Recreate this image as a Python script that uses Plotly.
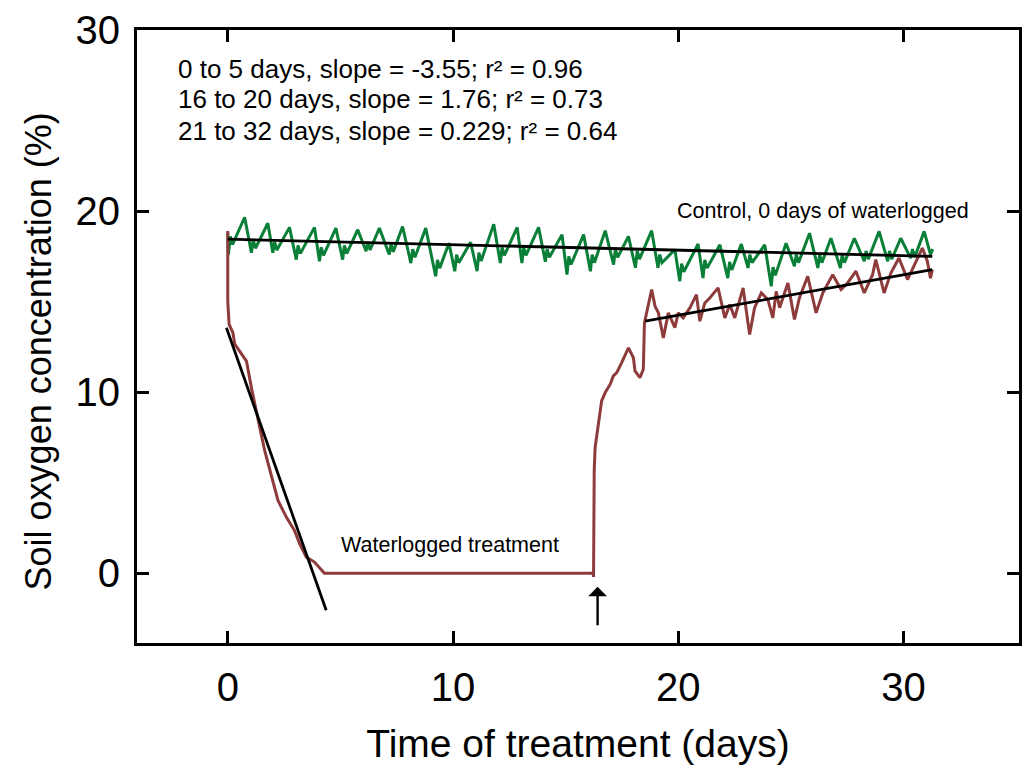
import plotly.graph_objects as go

# ---------------- data ----------------
# Control: daily peaks and troughs (days, % O2)
ctrl_trough_t = [0.03, 1.05, 2.0, 3.04, 4.07, 5.1, 6.14, 7.17, 8.13, 9.23, 10.08, 11.07, 12.1, 13.06,
                 14.1, 15.06, 16.1, 17.13, 18.1, 19.1, 20.07, 21.1, 22.2, 23.1, 24.13, 25.16, 26.2,
                 27.2, 28.26, 29.3, 30.32]
ctrl_trough_v = [17.6, 17.7, 17.7, 17.32, 17.23, 17.32, 17.78, 17.6, 17.13, 16.4, 16.68, 16.68, 17.13,
                 17.13, 17.2, 16.49, 16.68, 17.04, 16.87, 16.87, 16.13, 16.3, 16.3, 16.86, 15.85, 16.95,
                 16.86, 16.86, 17.23, 17.23, 17.4]
ctrl_mid_v = [18.6, 18.4, 18.3, 18.1, 18.0, 18.1, 18.3, 18.2, 17.9, 17.3, 17.6, 17.7, 18.0, 18.0, 17.9,
              17.5, 17.6, 17.9, 17.8, 17.6, 17.1, 17.3, 17.2, 17.6, 16.9, 17.6, 17.6, 17.6, 17.8, 17.8, 17.9]
ctrl_peak_t = [0.75, 1.78, 2.74, 3.85, 4.8, 5.77, 6.73, 7.76, 8.79, 9.82, 10.78, 11.81, 12.85, 13.8,
               14.84, 15.8, 16.76, 17.79, 18.82, 19.85, 20.88, 21.85, 22.8, 23.84, 24.79, 25.83, 26.78,
               27.82, 28.92, 29.88, 30.92]
ctrl_peak_v = [19.66, 19.33, 19.1, 19.1, 19.06, 18.97, 19.06, 19.15, 19.06, 18.23, 18.28, 19.28, 19.1,
               19.1, 18.7, 18.7, 18.92, 18.6, 18.92, 17.87, 18.18, 18.14, 18.18, 18.14, 18.23, 18.78,
               18.5, 18.5, 18.88, 18.5, 18.88]
ctrl_start = (0.0, 18.8)
ctrl_end_t = [31.2, 31.3]
ctrl_end_v = [17.6, 17.9]

# Waterlogged treatment
wl_t = [0.0, 0.0, 0.06, 0.23, 0.31, 0.6, 0.83, 1.05, 1.19, 1.42, 1.64, 1.93, 2.23, 2.6, 2.96, 3.19,
        3.48, 3.85, 4.29, 16.22, 16.24, 16.25, 16.27, 16.31, 16.46, 16.6, 16.76, 16.98, 17.12, 17.27,
        17.49, 17.79, 18.01, 18.08, 18.3, 18.45, 18.5, 18.82, 18.97, 19.12, 19.34, 19.56, 19.85, 20.0,
        20.22, 20.52, 20.81, 20.96, 21.18, 21.4, 21.77, 22.07, 22.29, 22.51, 22.88, 23.17, 23.39,
        23.69, 23.98, 24.2, 24.35, 24.5, 24.87, 25.16, 25.38, 25.75, 26.12, 26.42, 26.86, 27.23,
        27.52, 27.89, 28.26, 28.63, 28.77, 29.14, 29.44, 29.8, 30.18, 30.47, 30.84, 31.06, 31.2, 31.28]
wl_v = [18.9, 15.0, 13.74, 13.28, 12.65, 12.09, 11.72, 10.25, 9.34, 8.05, 6.77, 5.49, 4.02, 3.1, 2.37,
        1.63, 0.9, 0.62, 0.0, 0.0, -0.2, 1.8, 5.67, 6.95, 8.42, 9.52, 9.98, 10.44, 10.9, 11.08, 11.63,
        12.45, 11.9, 11.17, 10.8, 11.27, 13.83, 15.67, 14.75, 14.38, 13.0, 14.38, 13.56, 14.38, 14.1,
        14.66, 15.39, 13.92, 14.93, 15.2, 15.76, 14.1, 14.84, 14.1, 15.76, 13.19, 14.66, 15.48, 15.12,
        14.1, 15.57, 14.66, 16.03, 14.02, 15.2, 16.4, 14.38, 15.48, 16.49, 15.67, 16.03, 16.68, 15.48,
        16.49, 17.32, 15.48, 16.58, 17.41, 16.22, 16.95, 17.96, 17.23, 16.3, 16.77]

# Regression lines
fit1_t = [-0.06, 4.37]
fit1_v = [13.56, -2.04]
fit3_t = [18.53, 31.28]
fit3_v = [13.92, 16.77]
ctrlfit_t = [0.0, 31.28]
ctrlfit_v = [18.45, 17.5]

stats_lines = ["0 to 5 days, slope = -3.55; r\u00b2 = 0.96",
               "16 to 20 days, slope = 1.76; r\u00b2 = 0.73",
               "21 to 32 days, slope = 0.229; r\u00b2 = 0.64"]
stats_y = [27.85, 26.2, 24.45]

# ---------------- build control series ----------------
ct, cv = [ctrl_start[0]], [ctrl_start[1]]
for i in range(len(ctrl_peak_t)):
    tt = ctrl_trough_t[i]
    ct += [tt, tt + 0.08, tt + 0.18, ctrl_peak_t[i]]
    cv += [ctrl_trough_v[i], ctrl_mid_v[i], ctrl_mid_v[i] - 0.45, ctrl_peak_v[i]]
ct += ctrl_end_t
cv += ctrl_end_v

GREEN = "#0a7f38"
RED = "#8e3b3b"
FONT = "Arial, 'Liberation Sans', sans-serif"

fig = go.Figure()
fig.add_trace(go.Scatter(x=ct, y=cv, mode="lines", line=dict(color=GREEN, width=3), showlegend=False))
fig.add_trace(go.Scatter(x=wl_t, y=wl_v, mode="lines", line=dict(color=RED, width=3), showlegend=False))
for tx, vy in [(fit1_t, fit1_v), (fit3_t, fit3_v), (ctrlfit_t, ctrlfit_v)]:
    fig.add_trace(go.Scatter(x=tx, y=vy, mode="lines", line=dict(color="black", width=2.8),
                             showlegend=False))

for s, yv in zip(stats_lines, stats_y):
    fig.add_annotation(x=-2.32, y=yv, text=s, showarrow=False, xanchor="left", yanchor="middle",
                       font=dict(size=26, color="black", family=FONT))
fig.add_annotation(x=19.87, y=19.98, text="Control, 0 days of waterlogged", showarrow=False,
                   xanchor="left", yanchor="middle", font=dict(size=21.5, color="black", family=FONT))
fig.add_annotation(x=4.96, y=1.54, text="Waterlogged treatment", showarrow=False,
                   xanchor="left", yanchor="middle", font=dict(size=21.5, color="black", family=FONT))
# arrow marking end of waterlogging
fig.add_annotation(x=16.42, y=-0.75, ax=16.42, ay=-2.95, axref="x", ayref="y", xref="x", yref="y",
                   text="", showarrow=True, arrowhead=1, arrowsize=1.3, arrowwidth=2.4, arrowcolor="black")
# y axis title (placed as rotated text to match the reference offset)
fig.add_annotation(x=-0.112, y=0.476, xref="paper", yref="paper", text="Soil oxygen concentration (%)",
                   textangle=-90, showarrow=False, xanchor="center", yanchor="middle",
                   font=dict(size=36, color="black", family=FONT))

axis_common = dict(showline=True, linewidth=3, linecolor="black", mirror="ticks", ticks="inside",
                   ticklen=12, tickwidth=2.5, tickcolor="black", showgrid=False, zeroline=False,
                   tickfont=dict(size=40, color="black", family=FONT))
fig.update_xaxes(range=[-4.03, 35.13], tickvals=[0, 10, 20, 30], ticklabelstandoff=7,
                 title=dict(text="Time of treatment (days)", font=dict(size=39, color="black", family=FONT),
                            standoff=22), **axis_common)
fig.update_yaxes(range=[-3.85, 30], tickvals=[0, 10, 20, 30], ticklabelstandoff=6, **axis_common)
fig.update_layout(width=1030, height=771, margin=dict(l=137, r=8, t=28, b=128),
                  plot_bgcolor="white", paper_bgcolor="white", font=dict(family=FONT))
fig.write_html("out.html")
